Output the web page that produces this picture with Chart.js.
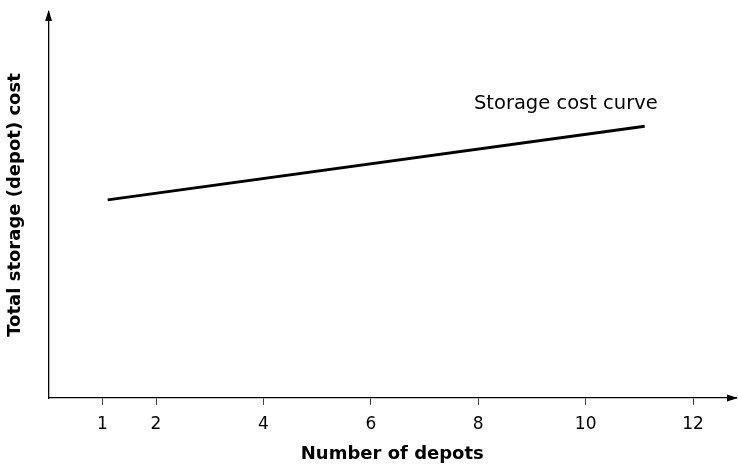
<!DOCTYPE html>
<html>
<head>
<meta charset="utf-8">
<script src="https://cdn.jsdelivr.net/npm/chart.js@4/dist/chart.umd.min.js"></script>
<style>
  html, body { margin: 0; padding: 0; background: #fff; }
  #wrap { width: 738px; height: 465px; }
</style>
</head>
<body>
<div id="wrap"><canvas id="chart" width="738" height="465"></canvas></div>
<script>
// number of depots where the curve starts and ends
var depots = [1.1, 11.1];
// storage cost (relative units, axis has no scale)
var storageCost = [51.3, 70.4];
var xTicks = [1, 2, 4, 6, 8, 10, 12];
var curveLabel = 'Storage cost curve';

var FONT = '"DejaVu Sans", "Liberation Sans", Arial, sans-serif';

// arrowheads on the axes + the curve label
var axisExtras = {
    id: 'axisExtras',
    afterDraw: function (chart) {
        var ctx = chart.ctx;
        var a = chart.chartArea;
        ctx.save();
        ctx.fillStyle = '#000';
        // y arrow
        ctx.beginPath();
        ctx.moveTo(a.left, a.top - 2);
        ctx.lineTo(a.left - 3.5, a.top + 9);
        ctx.lineTo(a.left + 3.5, a.top + 9);
        ctx.closePath();
        ctx.fill();
        // x arrow
        ctx.beginPath();
        ctx.moveTo(a.right + 2, a.bottom);
        ctx.lineTo(a.right - 9, a.bottom - 3.5);
        ctx.lineTo(a.right - 9, a.bottom + 3.5);
        ctx.closePath();
        ctx.fill();
        // label near end of curve
        var xs = chart.scales.x, ys = chart.scales.y;
        var last = depots.length - 1;
        var px = xs.getPixelForValue(depots[last]);
        var py = ys.getPixelForValue(storageCost[last]);
        ctx.font = '19.5px ' + FONT;
        ctx.textAlign = 'right';
        ctx.textBaseline = 'middle';
        ctx.fillText(curveLabel, px + 13, py - 22);
        ctx.restore();
    }
};

new Chart(document.getElementById('chart'), {
    type: 'scatter',
    data: {
        datasets: [{
            data: depots.map(function (d, i) { return { x: d, y: storageCost[i] }; }),
            showLine: true,
            borderColor: '#000',
            borderWidth: 2.8,
            pointRadius: 0,
            fill: false
        }]
    },
    options: {
        responsive: false,
        animation: false,
        layout: { padding: { top: 12, right: 2, left: 5, bottom: -14 } },
        plugins: {
            legend: { display: false },
            tooltip: { enabled: false }
        },
        scales: {
            x: {
                type: 'linear',
                min: 0,
                max: 12.8,
                afterBuildTicks: function (scale) {
                    scale.ticks = xTicks.map(function (v) { return { value: v }; });
                },
                grid: { drawOnChartArea: false, drawTicks: true, tickLength: 7, color: '#444', lineWidth: 1 },
                border: { display: true, color: '#000', width: 1.3 },
                ticks: { color: '#000', font: { family: FONT, size: 17 }, padding: 9, maxRotation: 0 },
                title: {
                    display: true,
                    text: 'Number of depots',
                    color: '#000',
                    font: { family: FONT, size: 18, weight: 'bold' },
                    padding: { top: 0, bottom: 14 }
                }
            },
            y: {
                min: 0,
                max: 100,
                grid: { display: false, drawTicks: false },
                border: { display: true, color: '#000', width: 1.3 },
                ticks: { display: false },
                title: {
                    display: true,
                    text: 'Total storage (depot) cost',
                    color: '#000',
                    font: { family: FONT, size: 18, weight: 'bold' },
                    padding: { top: 0, bottom: 22 }
                }
            }
        }
    },
    plugins: [axisExtras]
});
</script>
</body>
</html>
